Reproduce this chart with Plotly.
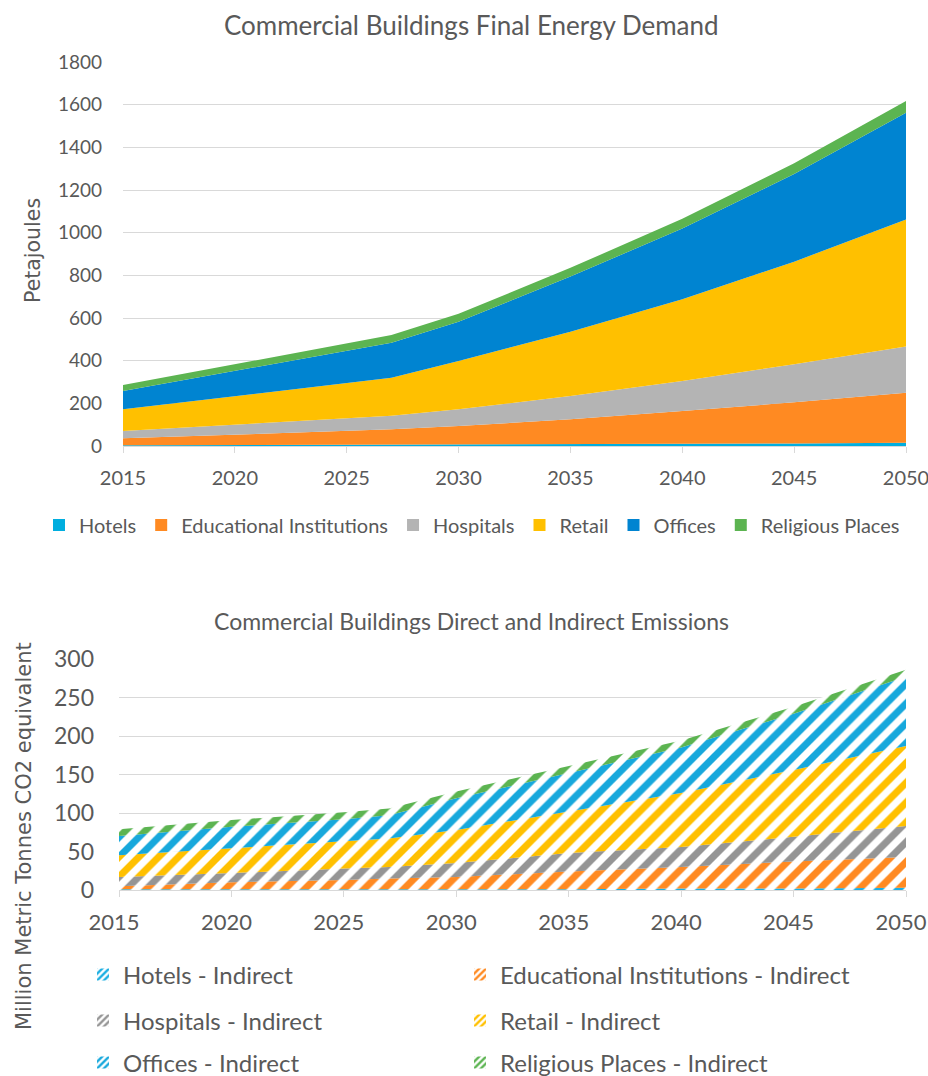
import plotly.graph_objects as go

W, H = 928, 1076

years = [2015, 2020, 2025, 2027, 2030, 2035, 2040, 2045, 2050]
x_ticks = [2015, 2020, 2025, 2030, 2035, 2040, 2045, 2050]

categories = ["Hotels", "Educational Institutions", "Hospitals",
              "Retail", "Offices", "Religious Places"]

# Final energy demand by building type (Petajoules)
energy_hotels = [3, 4, 5, 5, 6, 8, 10, 12, 15]
energy_education = [33, 49, 65, 73, 88, 117, 154, 193, 235]
energy_hospitals = [34, 47, 60, 64, 78, 109, 141, 178, 216]
energy_retail = [102, 133, 164, 178, 226, 302, 383, 481, 596]
energy_offices = [86, 119, 152, 164, 184, 258, 332, 411, 500]
energy_religious = [28, 31, 34, 36, 38, 41, 45, 50, 55]

# Indirect emissions by building type (Mt CO2e)
emis_hotels = [1, 1, 1, 1, 1, 1, 2, 2, 3]
emis_education = [4, 9, 12, 14, 16, 23, 28, 35, 40]
emis_hospitals = [12, 12, 15, 15, 18, 24, 26, 32, 40]
emis_retail = [28, 32, 35, 37, 43, 54, 70, 87, 104]
emis_offices = [25, 28, 29, 30, 41, 50, 59, 73, 90]
emis_religious = [9, 9, 9, 9, 9, 9, 9, 9, 9]

energy_series = [energy_hotels, energy_education, energy_hospitals,
                 energy_retail, energy_offices, energy_religious]
emis_series = [emis_hotels, emis_education, emis_hospitals,
               emis_retail, emis_offices, emis_religious]

energy_colors = ["#00AEDF", "#FF8A22", "#B4B4B4", "#FFC000", "#0084D1", "#5CB451"]
emis_colors = ["#1AAEE2", "#FF8A22", "#959595", "#FFC000", "#17A8DC", "#5CB451"]

TEXT = "#595959"
GRID = "#D9D9D9"
FONT = "Lato"
AXFONT = "DejaVu Sans"

fig = go.Figure()

# Top: stacked solid areas
for name, vals, col in zip(categories, energy_series, energy_colors):
    fig.add_trace(go.Scatter(
        x=years, y=vals, name=name, stackgroup="energy", mode="lines",
        line=dict(width=0, color=col), fillcolor=col, showlegend=False,
        xaxis="x", yaxis="y"))
# legend swatches (square keys)
for name, col in zip(categories, energy_colors):
    fig.add_trace(go.Bar(
        x=[None], y=[None], name=name, marker=dict(color=col, line=dict(width=0)),
        legend="legend", xaxis="x", yaxis="y"))

# Bottom: stacked hatched areas
for name, vals, col in zip(categories, emis_series, emis_colors):
    fig.add_trace(go.Scatter(
        x=years, y=vals, name=f"{name} - Indirect", stackgroup="emis", mode="lines",
        line=dict(width=0, color=col), fillcolor="white",
        fillpattern=dict(shape="/", size=14, solidity=0.5, fgcolor=col,
                         bgcolor="white", fillmode="replace"),
        showlegend=False, xaxis="x2", yaxis="y2"))
for i, (name, col) in enumerate(zip(categories, emis_colors)):
    fig.add_trace(go.Bar(
        x=[None], y=[None], name=f"{name} - Indirect",
        marker=dict(color="white", line=dict(width=0),
                    pattern=dict(shape="/", size=6, solidity=0.5, fgcolor=col,
                                 bgcolor="white", fillmode="replace")),
        legend=f"legend{i + 2}", xaxis="x2", yaxis="y2"))

xaxis_common = dict(
    range=[2015, 2050], tickvals=x_ticks, ticktext=[str(t) for t in x_ticks],
    showgrid=False, showline=True, linecolor=GRID, linewidth=1,
    ticks="outside", ticklen=6, tickcolor=GRID, zeroline=False,
    ticklabeloverflow="allow", fixedrange=True)
yaxis_common = dict(showgrid=True, gridcolor=GRID, gridwidth=1, showline=False,
                    ticks="", zeroline=False, fixedrange=True)

layout = dict(
    width=W, height=H, margin=dict(l=0, r=0, t=0, b=0, pad=0, autoexpand=False),
    paper_bgcolor="white", plot_bgcolor="white",
    font=dict(family=FONT, color=TEXT),
    xaxis=dict(domain=[123 / W, 906 / W], anchor="y",
               tickfont=dict(family=FONT, size=20, color=TEXT),
               ticklabelstandoff=8, **xaxis_common),
    yaxis=dict(domain=[1 - 446 / H, 1 - 62 / H], anchor="x", range=[0, 1800],
               dtick=200, tickfont=dict(family=FONT, size=19, color=TEXT),
               ticklabelstandoff=20, **yaxis_common),
    xaxis2=dict(domain=[119 / W, 906 / W], anchor="y2",
                tickfont=dict(family=FONT, size=22, color=TEXT),
                ticklabelstandoff=7, ticklabelshift=-5, **xaxis_common),
    yaxis2=dict(domain=[1 - 890 / H, 1 - 659 / H], anchor="x2", range=[0, 300],
                dtick=50, tickfont=dict(family=FONT, size=23, color=TEXT),
                ticklabelstandoff=24, **yaxis_common),
    legend=dict(orientation="h", x=472 / W, xanchor="center",
                y=1 - 525 / H, yanchor="middle", bgcolor="rgba(0,0,0,0)",
                font=dict(family=FONT, size=20, color=TEXT), traceorder="normal"),
    annotations=[
        dict(text="Commercial Buildings Final Energy Demand", x=471 / W, y=1 - 25 / H,
             xref="paper", yref="paper", xanchor="center", yanchor="middle",
             showarrow=False, font=dict(family=FONT, size=26, color=TEXT)),
        dict(text="Commercial Buildings Direct and Indirect Emissions", x=471 / W,
             y=1 - 621 / H, xref="paper", yref="paper", xanchor="center",
             yanchor="middle", showarrow=False,
             font=dict(family=FONT, size=23, color=TEXT)),
        dict(text="Petajoules", x=33 / W, y=1 - 251 / H, xref="paper", yref="paper",
             xanchor="center", yanchor="middle", textangle=-90, showarrow=False,
             font=dict(family=AXFONT, size=20.5, color=TEXT)),
        dict(text="Million Metric Tonnes CO2 equivalent", x=24 / W, y=1 - 836 / H,
             xref="paper", yref="paper", xanchor="center", yanchor="middle",
             textangle=-90, showarrow=False,
             font=dict(family=AXFONT, size=21, color=TEXT)),
    ],
)

# bottom legend: two columns, three rows
col_x = [83 / W, 460 / W]
row_y = [1 - 975 / H, 1 - 1021 / H, 1 - 1063 / H]
for i in range(6):
    layout[f"legend{i + 2}"] = dict(
        x=col_x[i % 2], xanchor="left", y=row_y[i // 2], yanchor="middle",
        bgcolor="rgba(0,0,0,0)",
        font=dict(family=FONT, size=24, color=TEXT))

fig.update_layout(**layout)
fig.write_html("out.html")
